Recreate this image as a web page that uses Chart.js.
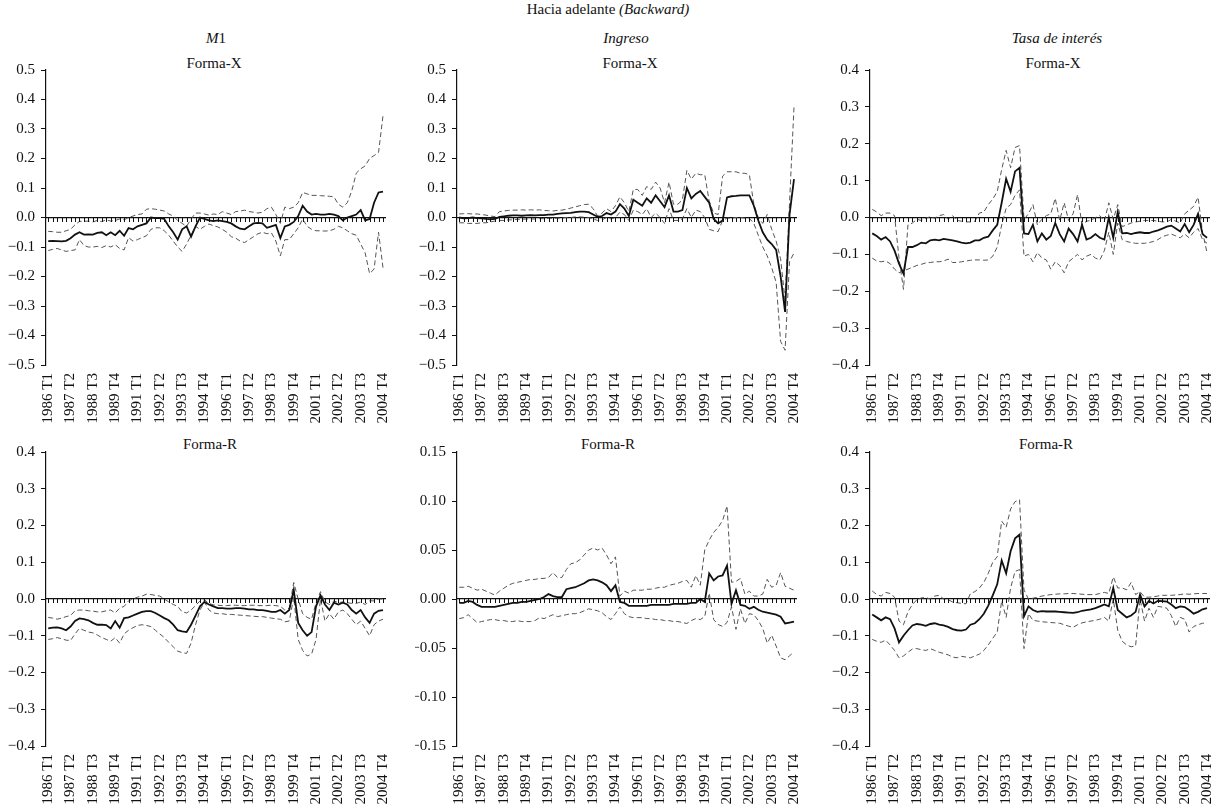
<!DOCTYPE html>
<html>
<head>
<meta charset="utf-8">
<script src="https://cdn.jsdelivr.net/npm/chart.js@4.4.0/dist/chart.umd.min.js"></script>
<style>
  body { margin: 0; background: #fff; width: 1216px; height: 807px; position: relative; overflow: hidden;
         font-family: "Liberation Serif", serif; color: #111; }
  .t { position: absolute; transform: translate(-50%, -50%); white-space: nowrap; font-size: 15px; }
  canvas { position: absolute; }
</style>
</head>
<body>
<div class="t" style="left:608px;top:9px">Hacia adelante <i>(Backward)</i></div>
<div class="t" style="left:216px;top:38px"><i>M</i>1</div>
<div class="t" style="left:626px;top:38px"><i>Ingreso</i></div>
<div class="t" style="left:1057px;top:38px"><i>Tasa de interés</i></div>
<div class="t" style="left:214px;top:63px">Forma-X</div>
<div class="t" style="left:630px;top:63px">Forma-X</div>
<div class="t" style="left:1053px;top:63px">Forma-X</div>
<div class="t" style="left:210px;top:444px">Forma-R</div>
<div class="t" style="left:608px;top:444px">Forma-R</div>
<div class="t" style="left:1046px;top:444px">Forma-R</div>

<canvas id="c0" width="397" height="370" style="left:4px;top:55px"></canvas>
<canvas id="c1" width="397" height="370" style="left:415px;top:55px"></canvas>
<canvas id="c2" width="397" height="370" style="left:828px;top:55px"></canvas>
<canvas id="c3" width="397" height="369" style="left:4px;top:437px"></canvas>
<canvas id="c4" width="397" height="369" style="left:415px;top:437px"></canvas>
<canvas id="c5" width="397" height="369" style="left:828px;top:437px"></canvas>

<script>
// quarters 1986 T1 .. 2004 T4
const years = [1986, 1987, 1988, 1989, 1990, 1991, 1992, 1993, 1994, 1995,
               1996, 1997, 1998, 1999, 2000, 2001, 2002, 2003, 2004];
const quarterNames = ['T1', 'T2', 'T3', 'T4'];
const labels = [];
years.forEach(y => quarterNames.forEach(q => labels.push(y + ' ' + q)));

const shownTicks = ['1986 T1', '1987 T2', '1988 T3', '1989 T4', '1991 T1', '1992 T2', '1993 T3', '1994 T4',
                    '1996 T1', '1997 T2', '1998 T3', '1999 T4', '2001 T1', '2002 T2', '2003 T3', '2004 T4'];

// M1, Forma-X
const m1X_mid = [-0.080,-0.079,-0.080,-0.081,-0.079,-0.070,-0.058,-0.050,-0.058,-0.057,
  -0.058,-0.052,-0.050,-0.060,-0.050,-0.060,-0.045,-0.062,-0.036,-0.040,
  -0.030,-0.025,-0.020,0.000,-0.002,-0.002,-0.005,-0.030,-0.050,-0.075,
  -0.040,-0.030,-0.065,-0.030,0.000,-0.005,-0.010,-0.012,-0.010,-0.012,
  -0.015,-0.020,-0.030,-0.038,-0.040,-0.030,-0.020,-0.018,-0.020,-0.035,
  -0.030,-0.025,-0.070,-0.030,-0.025,-0.015,0.005,0.040,0.020,0.010,
  0.012,0.010,0.010,0.012,0.010,0.005,-0.010,0.000,0.005,0.010,
  0.025,-0.010,-0.005,0.050,0.085,0.088];
const m1X_up = [-0.047,-0.048,-0.050,-0.050,-0.045,-0.040,-0.025,-0.013,-0.013,-0.012,
  -0.015,-0.010,-0.014,-0.008,-0.012,-0.010,-0.005,-0.008,0.000,0.005,
  0.010,0.012,0.028,0.030,0.028,0.025,0.022,0.012,0.005,-0.010,
  -0.020,-0.030,-0.005,0.015,0.015,0.012,0.008,0.012,0.010,0.020,
  0.015,0.010,0.020,0.022,0.025,0.020,0.018,0.015,0.018,0.030,
  0.035,0.010,-0.020,0.035,0.030,0.035,0.050,0.085,0.080,0.075,
  0.075,0.074,0.073,0.072,0.070,0.045,0.035,0.050,0.090,0.150,
  0.165,0.175,0.200,0.210,0.220,0.345];
const m1X_lo = [-0.112,-0.108,-0.105,-0.110,-0.115,-0.112,-0.110,-0.075,-0.095,-0.100,
  -0.100,-0.098,-0.102,-0.095,-0.100,-0.092,-0.105,-0.110,-0.068,-0.080,
  -0.075,-0.068,-0.062,-0.040,-0.035,-0.035,-0.045,-0.060,-0.080,-0.100,
  -0.115,-0.090,-0.060,-0.030,-0.040,-0.030,-0.022,-0.028,-0.032,-0.040,
  -0.050,-0.065,-0.070,-0.080,-0.085,-0.075,-0.065,-0.055,-0.050,-0.055,
  -0.052,-0.080,-0.130,-0.075,-0.075,-0.055,-0.035,-0.005,-0.030,-0.040,
  -0.045,-0.045,-0.046,-0.045,-0.040,-0.030,-0.035,-0.045,-0.055,-0.060,
  -0.090,-0.120,-0.190,-0.175,-0.050,-0.170];

// Ingreso, Forma-X
const ingX_mid = [0.000,-0.003,-0.002,0.000,-0.002,-0.003,-0.005,-0.006,-0.005,0.002,
  0.004,0.006,0.007,0.007,0.006,0.007,0.008,0.007,0.008,0.008,
  0.010,0.010,0.012,0.014,0.015,0.016,0.018,0.020,0.020,0.018,
  0.010,0.002,0.005,0.015,0.010,0.020,0.045,0.030,0.005,0.060,
  0.050,0.040,0.065,0.050,0.075,0.055,0.035,0.075,0.020,0.020,
  0.025,0.100,0.065,0.080,0.090,0.070,0.050,-0.005,-0.020,-0.010,
  0.068,0.072,0.073,0.075,0.075,0.075,0.040,-0.010,-0.050,-0.075,
  -0.090,-0.110,-0.200,-0.320,0.010,0.130];
const ingX_up = [0.012,0.013,0.013,0.012,0.012,0.010,0.008,0.005,0.003,0.020,
  0.022,0.024,0.025,0.025,0.026,0.025,0.026,0.025,0.026,0.024,
  0.023,0.022,0.024,0.025,0.028,0.032,0.036,0.040,0.044,0.045,
  0.030,0.005,0.015,0.030,0.020,0.040,0.070,0.050,0.020,0.095,
  0.095,0.075,0.105,0.095,0.120,0.100,0.050,0.120,0.045,0.045,
  0.060,0.160,0.130,0.150,0.145,0.145,0.055,0.015,0.010,0.140,
  0.155,0.155,0.155,0.150,0.150,0.145,0.045,0.000,-0.020,0.010,
  -0.040,-0.080,-0.140,-0.280,0.050,0.375];
const ingX_lo = [-0.018,-0.018,-0.020,-0.020,-0.020,-0.018,-0.018,-0.015,-0.012,-0.010,
  -0.010,-0.008,-0.008,-0.006,-0.006,-0.005,-0.005,-0.005,-0.004,-0.004,
  -0.003,-0.003,-0.002,-0.002,0.000,0.000,0.002,0.002,0.001,0.000,
  -0.005,-0.010,-0.008,0.000,-0.005,0.000,0.018,0.010,-0.010,0.025,
  0.020,0.010,0.030,0.000,0.015,0.000,-0.020,0.030,-0.010,-0.010,
  -0.005,0.030,0.000,0.025,0.020,0.000,-0.040,-0.045,-0.048,-0.010,
  -0.002,-0.002,0.000,0.000,-0.002,-0.003,-0.020,-0.060,-0.100,-0.130,
  -0.170,-0.220,-0.420,-0.450,-0.150,-0.120];

// Tasa de interés, Forma-X
const tasaX_mid = [-0.043,-0.050,-0.060,-0.053,-0.065,-0.090,-0.125,-0.152,-0.080,-0.080,
  -0.075,-0.068,-0.070,-0.062,-0.060,-0.062,-0.058,-0.060,-0.062,-0.065,
  -0.068,-0.070,-0.068,-0.062,-0.062,-0.055,-0.052,-0.035,-0.020,0.040,
  0.105,0.070,0.125,0.135,-0.043,-0.045,-0.020,-0.065,-0.043,-0.060,
  -0.050,-0.015,-0.045,-0.065,-0.030,-0.045,-0.065,-0.020,-0.060,-0.055,
  -0.045,-0.055,-0.060,0.000,-0.055,0.015,-0.043,-0.042,-0.045,-0.042,
  -0.040,-0.042,-0.042,-0.038,-0.035,-0.030,-0.025,-0.022,-0.030,-0.038,
  -0.018,-0.040,-0.020,0.010,-0.045,-0.055];
const tasaX_up = [0.022,0.015,0.005,0.012,0.012,0.005,-0.110,-0.195,-0.020,-0.015,
  -0.005,-0.008,-0.002,0.002,-0.002,0.005,0.008,-0.005,0.005,-0.008,
  -0.010,-0.012,-0.012,-0.010,0.012,0.015,0.035,0.050,0.070,0.130,
  0.182,0.135,0.190,0.195,-0.005,0.010,0.035,-0.020,-0.005,0.005,
  0.010,0.052,-0.008,0.040,-0.008,0.010,0.062,-0.020,-0.010,-0.008,
  0.000,0.005,-0.010,0.040,-0.005,0.035,-0.025,-0.020,-0.015,-0.012,
  -0.010,-0.008,-0.008,-0.008,-0.010,-0.012,-0.012,-0.005,-0.010,-0.015,
  0.010,0.020,0.030,0.055,-0.040,-0.095];
const tasaX_lo = [-0.110,-0.118,-0.120,-0.118,-0.125,-0.140,-0.150,-0.145,-0.140,-0.135,
  -0.130,-0.127,-0.123,-0.122,-0.120,-0.120,-0.118,-0.113,-0.122,-0.122,
  -0.120,-0.118,-0.116,-0.115,-0.115,-0.116,-0.115,-0.105,-0.080,-0.020,
  0.025,0.035,0.060,0.075,-0.105,-0.100,-0.120,-0.095,-0.110,-0.115,
  -0.140,-0.120,-0.130,-0.150,-0.120,-0.110,-0.100,-0.115,-0.105,-0.100,
  -0.110,-0.115,-0.090,-0.040,-0.100,-0.015,-0.060,-0.065,-0.068,-0.070,
  -0.070,-0.070,-0.068,-0.065,-0.060,-0.052,-0.048,-0.045,-0.050,-0.055,
  -0.045,-0.055,-0.040,-0.030,-0.060,-0.070];

// M1, Forma-R
const m1R_mid = [-0.080,-0.078,-0.077,-0.080,-0.085,-0.075,-0.060,-0.053,-0.055,-0.058,
  -0.065,-0.070,-0.070,-0.071,-0.080,-0.060,-0.078,-0.052,-0.050,-0.045,
  -0.040,-0.035,-0.033,-0.033,-0.038,-0.045,-0.052,-0.058,-0.070,-0.085,
  -0.088,-0.090,-0.070,-0.045,-0.020,-0.008,-0.015,-0.020,-0.025,-0.025,
  -0.026,-0.026,-0.025,-0.025,-0.026,-0.028,-0.028,-0.030,-0.030,-0.032,
  -0.035,-0.035,-0.030,-0.040,-0.030,0.025,-0.065,-0.085,-0.100,-0.090,
  -0.020,0.010,-0.015,-0.030,-0.010,-0.015,-0.010,-0.015,-0.030,-0.040,
  -0.030,-0.050,-0.065,-0.040,-0.032,-0.030];
const m1R_up = [-0.050,-0.052,-0.055,-0.052,-0.048,-0.045,-0.032,-0.030,-0.030,-0.032,
  -0.033,-0.035,-0.035,-0.032,-0.030,-0.038,-0.025,-0.020,-0.005,0.000,
  0.005,0.008,0.013,0.012,0.010,0.008,0.000,-0.008,-0.015,-0.020,
  -0.035,-0.038,-0.030,-0.018,-0.005,-0.002,-0.012,-0.016,-0.017,-0.018,
  -0.018,-0.017,-0.017,-0.018,-0.018,-0.017,-0.017,-0.018,-0.018,-0.018,
  -0.017,-0.018,-0.020,-0.030,-0.025,0.045,0.000,-0.040,-0.050,-0.055,
  -0.010,0.020,-0.008,-0.015,-0.005,-0.010,-0.008,-0.010,-0.012,-0.012,
  -0.008,-0.015,-0.005,-0.005,0.000,0.000];
const m1R_lo = [-0.110,-0.108,-0.105,-0.108,-0.112,-0.113,-0.095,-0.080,-0.085,-0.090,
  -0.092,-0.098,-0.105,-0.110,-0.115,-0.105,-0.120,-0.095,-0.085,-0.078,
  -0.072,-0.070,-0.072,-0.075,-0.085,-0.095,-0.105,-0.118,-0.130,-0.142,
  -0.146,-0.148,-0.120,-0.070,-0.030,-0.008,-0.030,-0.038,-0.040,-0.040,
  -0.042,-0.042,-0.043,-0.044,-0.045,-0.046,-0.047,-0.048,-0.048,-0.050,
  -0.052,-0.054,-0.055,-0.062,-0.060,0.005,-0.110,-0.140,-0.155,-0.150,
  -0.110,0.000,-0.060,-0.040,-0.055,-0.035,-0.030,-0.040,-0.055,-0.070,
  -0.060,-0.080,-0.100,-0.070,-0.060,-0.055];

// Ingreso, Forma-R
const ingR_mid = [-0.004,-0.004,-0.002,-0.003,-0.006,-0.008,-0.008,-0.008,-0.008,-0.007,
  -0.006,-0.005,-0.004,-0.004,-0.003,-0.003,-0.002,-0.001,0.000,0.002,
  0.005,0.003,0.002,0.002,0.010,0.011,0.012,0.014,0.016,0.019,
  0.020,0.019,0.017,0.014,0.008,0.014,-0.003,-0.004,-0.007,-0.007,
  -0.007,-0.007,-0.007,-0.006,-0.006,-0.006,-0.006,-0.006,-0.005,-0.005,
  -0.005,-0.005,-0.004,-0.004,0.000,-0.003,0.026,0.019,0.023,0.024,
  0.034,-0.005,0.009,-0.006,-0.007,-0.010,-0.008,-0.011,-0.013,-0.014,
  -0.015,-0.016,-0.018,-0.025,-0.024,-0.023];
const ingR_up = [0.012,0.012,0.013,0.011,0.009,0.010,0.008,0.006,0.004,0.008,
  0.011,0.014,0.016,0.017,0.018,0.019,0.020,0.020,0.021,0.021,
  0.022,0.027,0.022,0.022,0.030,0.036,0.037,0.040,0.045,0.050,
  0.052,0.050,0.052,0.045,0.036,0.043,0.003,0.008,0.006,0.009,
  0.009,0.009,0.010,0.010,0.011,0.012,0.012,0.014,0.015,0.016,
  0.018,0.019,0.012,0.024,0.014,0.050,0.060,0.068,0.073,0.080,
  0.095,0.017,0.018,0.021,0.005,0.008,0.003,0.003,0.005,0.020,
  0.012,0.014,0.027,0.013,0.011,0.009];
const ingR_lo = [-0.020,-0.019,-0.016,-0.020,-0.024,-0.023,-0.022,-0.021,-0.021,-0.022,
  -0.022,-0.023,-0.023,-0.022,-0.023,-0.023,-0.023,-0.022,-0.019,-0.020,
  -0.018,-0.016,-0.018,-0.017,-0.016,-0.015,-0.015,-0.014,-0.012,-0.010,
  -0.011,-0.012,-0.014,-0.018,-0.021,-0.015,-0.008,-0.015,-0.018,-0.019,
  -0.019,-0.019,-0.020,-0.020,-0.021,-0.021,-0.022,-0.022,-0.023,-0.023,
  -0.024,-0.025,-0.022,-0.020,-0.021,-0.018,0.006,-0.021,-0.026,-0.028,
  -0.024,-0.008,-0.031,-0.010,-0.025,-0.015,-0.016,-0.022,-0.030,-0.045,
  -0.037,-0.048,-0.060,-0.062,-0.058,-0.054];

// Tasa de interés, Forma-R
const tasaR_mid = [-0.042,-0.050,-0.058,-0.050,-0.055,-0.080,-0.118,-0.100,-0.085,-0.072,
  -0.068,-0.070,-0.073,-0.068,-0.066,-0.070,-0.072,-0.076,-0.082,-0.085,
  -0.086,-0.083,-0.070,-0.066,-0.055,-0.040,-0.018,0.010,0.040,0.105,
  0.070,0.130,0.165,0.175,-0.047,-0.020,-0.030,-0.035,-0.033,-0.034,
  -0.034,-0.034,-0.035,-0.036,-0.037,-0.038,-0.036,-0.032,-0.030,-0.028,
  -0.025,-0.020,-0.015,-0.020,0.030,-0.030,-0.040,-0.050,-0.045,-0.035,
  0.012,-0.020,-0.005,-0.012,-0.005,-0.006,-0.007,-0.015,-0.025,-0.020,
  -0.022,-0.030,-0.040,-0.035,-0.028,-0.025];
const tasaR_up = [0.022,0.012,0.008,0.018,0.015,0.005,-0.060,-0.070,-0.035,-0.015,
  -0.002,0.003,0.004,0.000,0.008,0.010,0.000,-0.002,-0.008,-0.010,
  -0.012,-0.013,0.015,0.020,0.030,0.045,0.070,0.100,0.115,0.212,
  0.195,0.245,0.265,0.270,0.025,0.000,0.002,0.005,0.008,0.010,
  0.012,0.013,0.014,0.014,0.015,0.015,0.014,0.013,0.012,0.012,
  0.012,0.015,0.018,0.015,0.060,0.030,0.030,0.025,0.045,0.012,
  0.020,0.005,0.005,0.006,0.008,0.010,0.010,0.010,0.011,0.012,
  0.014,0.013,0.014,0.015,0.015,0.015];
const tasaR_lo = [-0.110,-0.115,-0.118,-0.112,-0.125,-0.140,-0.160,-0.155,-0.145,-0.136,
  -0.135,-0.138,-0.140,-0.135,-0.140,-0.145,-0.148,-0.152,-0.158,-0.160,
  -0.156,-0.158,-0.160,-0.155,-0.150,-0.140,-0.125,-0.107,-0.090,-0.005,
  -0.050,0.030,0.075,0.080,-0.135,-0.040,-0.058,-0.060,-0.062,-0.063,
  -0.064,-0.065,-0.066,-0.070,-0.074,-0.077,-0.070,-0.065,-0.062,-0.060,
  -0.058,-0.055,-0.050,-0.060,0.000,-0.085,-0.115,-0.125,-0.130,-0.128,
  0.000,-0.060,-0.025,-0.050,-0.020,-0.022,-0.025,-0.045,-0.075,-0.050,
  -0.055,-0.090,-0.075,-0.070,-0.066,-0.065];

Chart.defaults.font.family = '"Liberation Serif", "Times New Roman", serif';
Chart.defaults.font.size = 15;
Chart.defaults.color = '#111';

// small tick marks hanging under the zero line, one per quarter
const zeroTicks = {
  id: 'zeroTicks',
  afterDatasetsDraw(chart) {
    const xs = chart.scales.x, ys = chart.scales.y, ctx = chart.ctx;
    const y0 = Math.round(ys.getPixelForValue(0));
    ctx.save();
    ctx.strokeStyle = '#111';
    ctx.lineWidth = 1;
    ctx.beginPath();
    labels.forEach((l, i) => {
      const x = Math.round(xs.getPixelForValue(i)) + 0.5;
      ctx.moveTo(x, y0);
      ctx.lineTo(x, y0 + 4);
    });
    ctx.stroke();
    ctx.restore();
  }
};

const panels = [
  { id: 'c0', mid: m1X_mid, up: m1X_up, lo: m1X_lo, min: -0.5, max: 0.5, step: 0.1, dec: 1 },
  { id: 'c1', mid: ingX_mid, up: ingX_up, lo: ingX_lo, min: -0.5, max: 0.5, step: 0.1, dec: 1 },
  { id: 'c2', mid: tasaX_mid, up: tasaX_up, lo: tasaX_lo, min: -0.4, max: 0.4, step: 0.1, dec: 1 },
  { id: 'c3', mid: m1R_mid, up: m1R_up, lo: m1R_lo, min: -0.4, max: 0.4, step: 0.1, dec: 1 },
  { id: 'c4', mid: ingR_mid, up: ingR_up, lo: ingR_lo, min: -0.15, max: 0.15, step: 0.05, dec: 2 },
  { id: 'c5', mid: tasaR_mid, up: tasaR_up, lo: tasaR_lo, min: -0.4, max: 0.4, step: 0.1, dec: 1 }
];

function band(data) {
  return { data: data, xAxisID: 'x', borderColor: '#555', borderWidth: 1, borderDash: [5, 3],
           pointRadius: 0, tension: 0, fill: false };
}

panels.forEach(p => {
  new Chart(document.getElementById(p.id), {
    type: 'line',
    data: {
      labels: labels,
      datasets: [
        { data: p.mid, xAxisID: 'x', borderColor: '#111', borderWidth: 1.8, pointRadius: 0, tension: 0, fill: false },
        band(p.up),
        band(p.lo)
      ]
    },
    plugins: [zeroTicks],
    options: {
      responsive: false,
      animation: false,
      layout: { padding: { top: 9.5, right: 0, left: 0, bottom: 0 } },
      plugins: { legend: { display: false }, tooltip: { enabled: false } },
      scales: {
        x: {
          type: 'category',
          offset: true,
          grid: { display: false },
          border: { display: false },
          afterFit: s => { s.height = 60; },
          ticks: {
            autoSkip: false,
            maxRotation: 90,
            minRotation: 90,
            padding: 0,
            font: { size: 15 },
            callback: function (v, i) {
              const l = labels[i];
              return shownTicks.includes(l) ? l : '';
            }
          }
        },
        x0: {
          axis: 'x',
          type: 'category',
          offset: true,
          position: { y: 0 },
          grid: { drawOnChartArea: false, drawTicks: false },
          border: { display: true, color: '#111', width: 1.2 },
          ticks: { display: false, autoSkip: false }
        },
        y: {
          min: p.min,
          max: p.max,
          afterFit: s => { s.width = 42; },
          grid: { drawOnChartArea: false, drawTicks: true, tickLength: 5, color: '#111' },
          border: { display: true, color: '#111', width: 1.2 },
          ticks: {
            stepSize: p.step,
            padding: 6,
            font: { size: 15 },
            callback: v => {
              const s = Math.abs(v) < 1e-9 ? (0).toFixed(p.dec) : v.toFixed(p.dec);
              return s.replace('-', '\u2212');
            }
          }
        }
      }
    }
  });
});
</script>
</body>
</html>
